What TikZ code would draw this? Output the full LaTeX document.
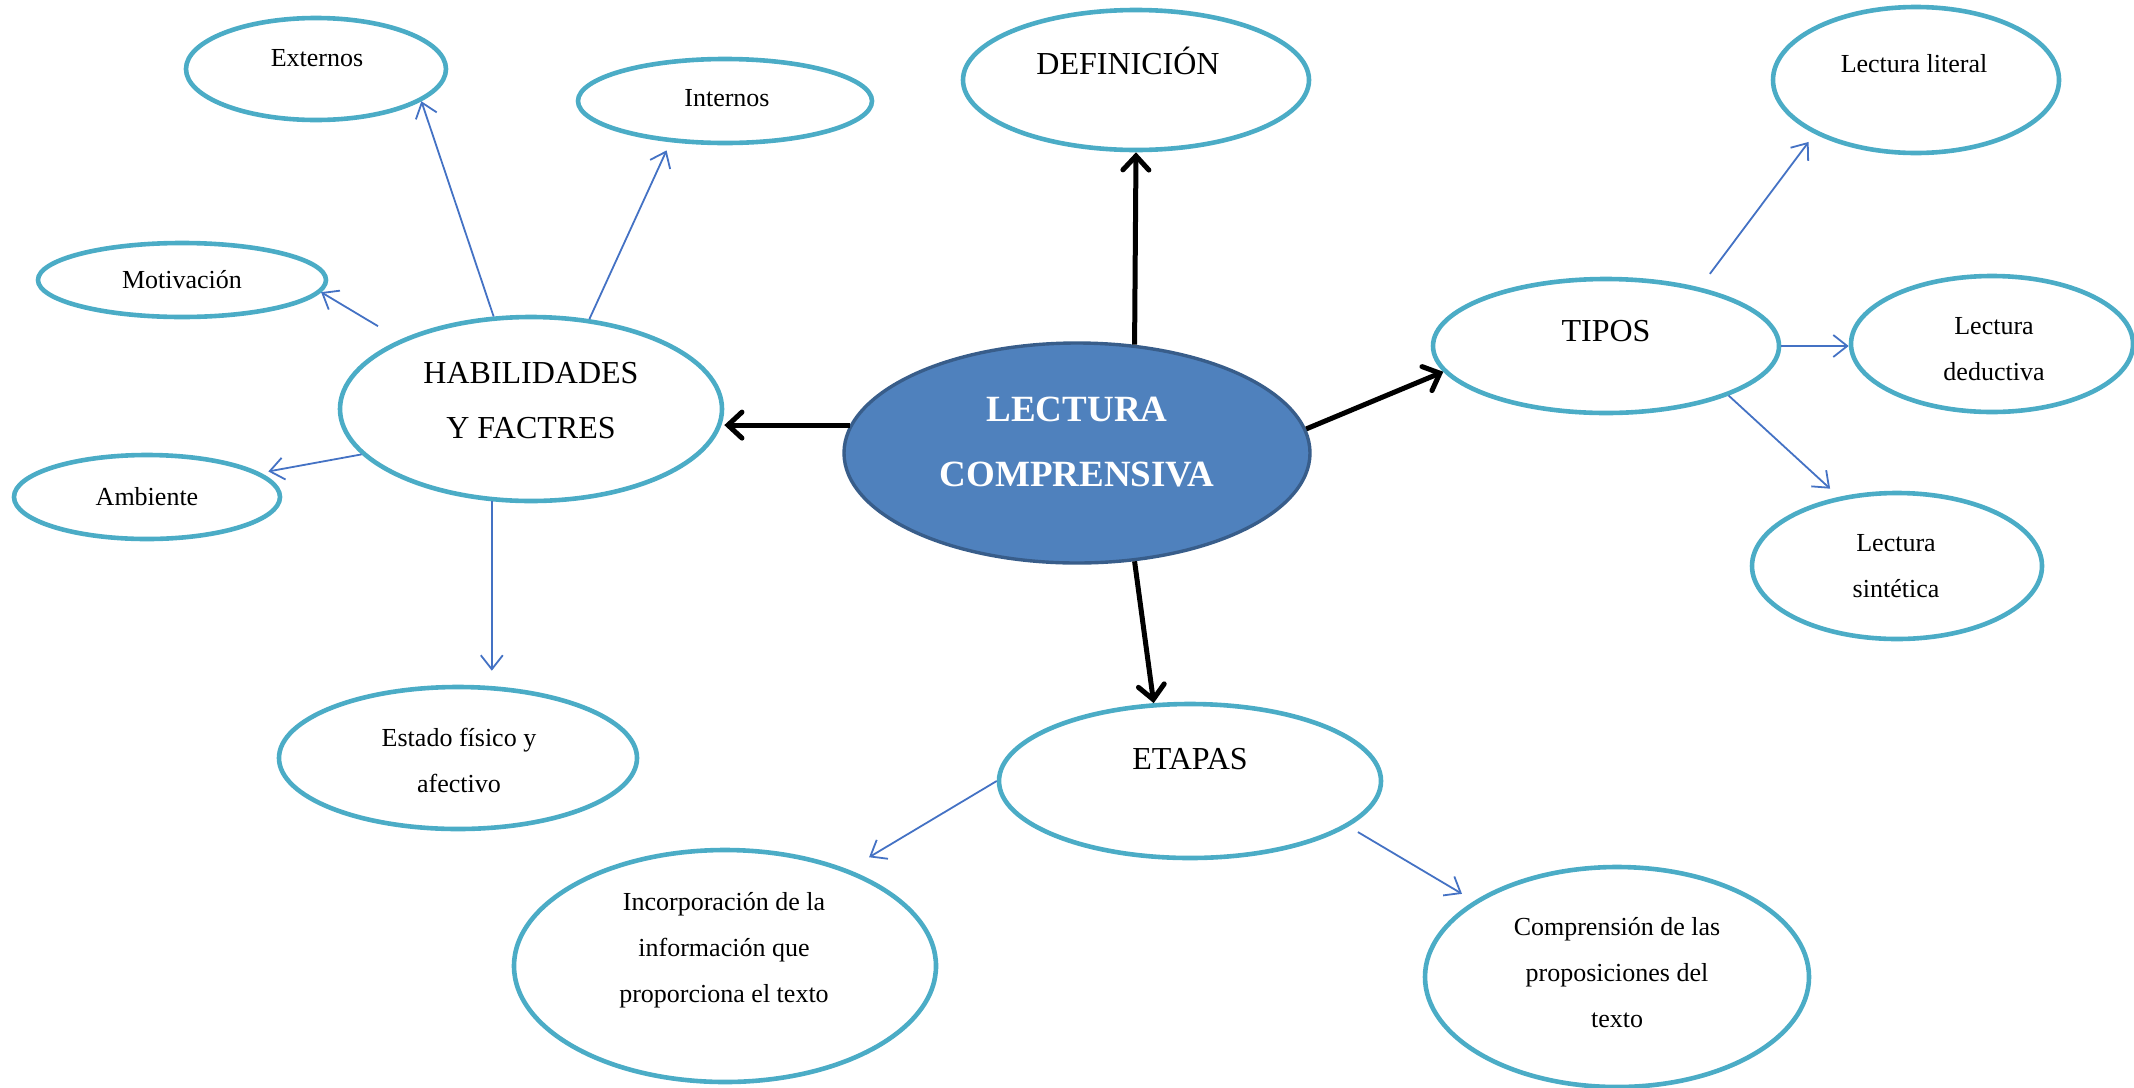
\documentclass[tikz,border=0pt]{standalone}
\usepackage{fontspec}
\setmainfont{Liberation Serif}
\usetikzlibrary{shapes.geometric,arrows.meta}
\definecolor{bubblue}{HTML}{4BACC6}
\definecolor{midfill}{HTML}{4F81BD}
\definecolor{midline}{HTML}{385D8A}
\definecolor{arrblue}{HTML}{4472C4}

\begin{document}
\begin{tikzpicture}[x=0.5pt,y=-0.5pt,
  bub/.style={ellipse,draw=bubblue,line width=2.3pt,fill=white,inner sep=0pt},
  small/.style={align=center,font=\fontsize{13}{23}\selectfont},
  big/.style={align=center,font=\fontsize{16}{27.5}\selectfont},
  blackarrow/.style={line width=2.5pt,-{Straight Barb[length=7pt,width=13pt,line cap=round]}},
  bluearrow/.style={draw=arrblue,line width=0.9pt,-{Straight Barb[length=7pt,width=11pt]}}]
\useasboundingbox (0,0) rectangle (2134,1087);

% bubbles
\node[bub,minimum width=130pt,minimum height=51pt] (ext) at (316,69) {};
\node[bub,minimum width=147pt,minimum height=42pt] (int) at (725,101) {};
\node[bub,minimum width=173pt,minimum height=70pt] (defi) at (1136,80) {};
\node[bub,minimum width=143pt,minimum height=73pt] (lit) at (1916,80) {};
\node[bub,minimum width=144pt,minimum height=37pt] (mot) at (182,280) {};
\node[bub,minimum width=191pt,minimum height=92pt] (hab) at (531,409) {};
\node[bub,minimum width=133pt,minimum height=42pt] (amb) at (147,497) {};
\node[bub,minimum width=179pt,minimum height=71pt] (est) at (458,758) {};
\node[bub,minimum width=173pt,minimum height=67pt] (tipos) at (1606,346) {};
\node[bub,minimum width=141pt,minimum height=68pt] (ded) at (1992,344) {};
\node[bub,minimum width=145pt,minimum height=73pt] (sin) at (1897,566) {};
\node[bub,minimum width=191pt,minimum height=77pt] (etp) at (1190,781) {};
\node[bub,minimum width=211pt,minimum height=116pt] (inc) at (725,966) {};
\node[bub,minimum width=192pt,minimum height=110pt] (comp) at (1617,977) {};
\node[ellipse,draw=midline,line width=1.7pt,fill=midfill,inner sep=0pt,
  minimum width=233pt,minimum height=110pt] (lc) at (1077,453) {};

% texts
\node[small] (ext-t) at (317,58) {Externos};
\node[small] (int-t) at (727,98) {Internos};
\node[big] (defi-t) at (1128,61) {DEFINICIÓN};
\node[small] (lit-t) at (1914,64) {Lectura literal};
\node[small] (mot-t) at (182,280) {Motivación};
\node[big] (hab-t) at (531,401) {HABILIDADES\\ Y FACTRES};
\node[small] (amb-t) at (147,497) {Ambiente};
\node[small] (est-t) at (459,760) {Estado físico y\\afectivo};
\node[align=center,text=white,font=\fontsize{18.5}{32.5}\selectfont\bfseries] (lc-t) at (1077,442) {LECTURA\\COMPRENSIVA};
\node[big] (tipos-t) at (1606,331) {TIPOS};
\node[small] (ded-t) at (1994,349) {Lectura\\deductiva};
\node[small] (sin-t) at (1896,566) {Lectura\\sintética};
\node[big] (etp-t) at (1190,759) {ETAPAS};
\node[small] (inc-t) at (724,950) {Incorporación de la\\información que\\proporciona el texto};
\node[small] (comp-t) at (1617,973) {Comprensión de las\\proposiciones del\\texto};

% main arrows
\draw[blackarrow] (lc.62) -- (defi.south);
\draw[blackarrow] (lc.173) -- (lc.173 -| hab.east);
\draw[blackarrow] (lc.6) -- (tipos.189);
\draw[blackarrow] (lc.-62) -- (etp.115);

% small arrows
\draw[bluearrow] (hab.112) -- (ext.-17);
\draw[bluearrow,shorten >=4.5pt] (hab.57) -- (int.217);
\draw[bluearrow,shorten <=13pt] (hab.152) -- (mot.-5);
\draw[bluearrow,shorten >=4pt] (hab.195) -- (amb.12);
\draw[bluearrow,shorten >=7pt] (hab.247) -- (hab.247 |- est.north);
\draw[bluearrow,shorten <=8.5pt,shorten >=5pt] (tipos.32) -- (lit.208);
\draw[bluearrow] (tipos.east) -- (tipos.east -| ded.west);
\draw[bluearrow,shorten >=6pt] (tipos.-22) -- (sin.130);
\draw[bluearrow,shorten >=12pt] (etp.west) -- (inc.38);
\draw[bluearrow,shorten <=5.5pt,shorten >=7pt] (etp.-16) -- (comp.152);
\end{tikzpicture}
\end{document}
